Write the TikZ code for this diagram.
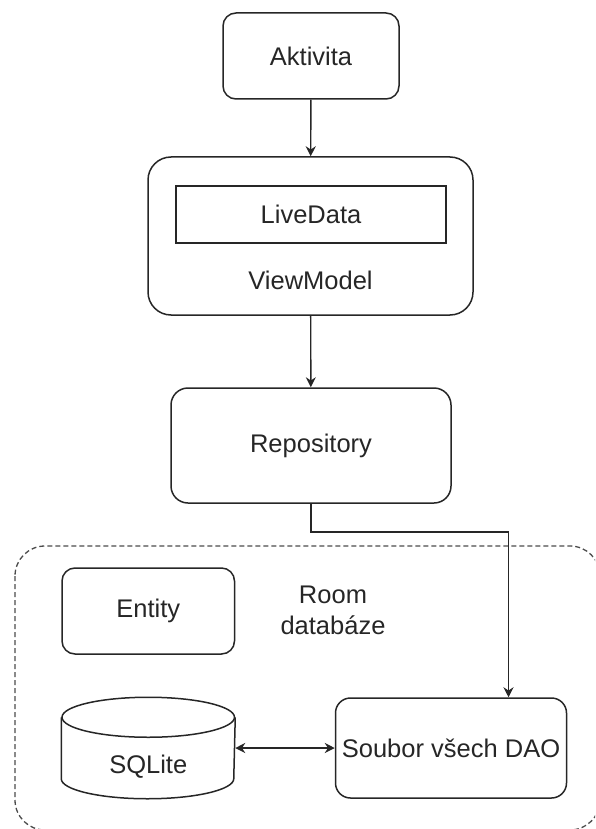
\documentclass[tikz,border=0pt]{standalone}
\usepackage{fontspec}
\setmainfont{Liberation Sans}
\usetikzlibrary{calc, arrows.meta, positioning}

\begin{document}
\begin{tikzpicture}[x=1pt, y=-1pt, >={Stealth[length=10pt,width=10pt]},
    line width=1.5pt, font=\fontsize{25.5}{31}\selectfont, text=black!85,
    box/.style={draw=black!85, rounded corners=15pt, inner sep=0pt},
    link/.style={draw=black!85, line width=1.4pt}]
  \useasboundingbox (0,0) rectangle (595,829);
  \clip (0,0) rectangle (595,829);
  % Room database frame
  \draw[black!70, line width=1.3pt, dash pattern=on 5pt off 3pt, rounded corners=30pt]
    (15,546) rectangle (600,830);
  % Top part
  \node[box, rounded corners=13pt, minimum width=176pt, minimum height=86pt] (akt) at (311,56) {Aktivita};
  \node[box, rounded corners=23pt, minimum width=325pt, minimum height=158pt] (vm) at (310.5,236) {};
  \node[draw=black!85, inner sep=0pt, minimum width=270pt, minimum height=57pt] (live) at (311,214.5) {LiveData};
  \node (vmtext) at (310.5,280) {ViewModel};
  \node[box, rounded corners=17pt, minimum width=280pt, minimum height=115pt] (repo) at (311,445.5) {Repository};
  % Room contents
  \node[box, rounded corners=13pt, minimum width=172.5pt, minimum height=86pt] (entity) at (148.25,611) {Entity};
  \node[align=center] (room) at (333,610) {Room\\databáze};
  \node[box, minimum width=231pt, minimum height=100pt] (dao) at (451,748) {Soubor všech DAO};
  % SQLite cylinder
  \node[inner sep=0pt, minimum width=172.5pt, minimum height=100pt] (sqlite) at (148.25,748) {};
  \draw[black!85] ($(sqlite.north west)+(0,20)$) -- ($(sqlite.south west)+(0,-20)$)
    arc[start angle=180, end angle=0, x radius=86.25, y radius=20]
    -- ($(sqlite.north east)+(0,20)$);
  \draw[black!85] ($(sqlite.north)+(0,20)$) ellipse[x radius=86.25, y radius=20];
  \node (sqltext) at (148.25,767) {SQLite};
  % Connectors
  \draw[link,->] (akt) -- (vm);
  \draw[link,->] (vm) -- (repo);
  \coordinate (bend) at (508.5,532);
  \draw[link,->] (repo.south) |- (bend) -- (bend |- dao.north);
  \draw[link,<->] (sqlite.east) -- (dao.west);
\end{tikzpicture}
\end{document}
